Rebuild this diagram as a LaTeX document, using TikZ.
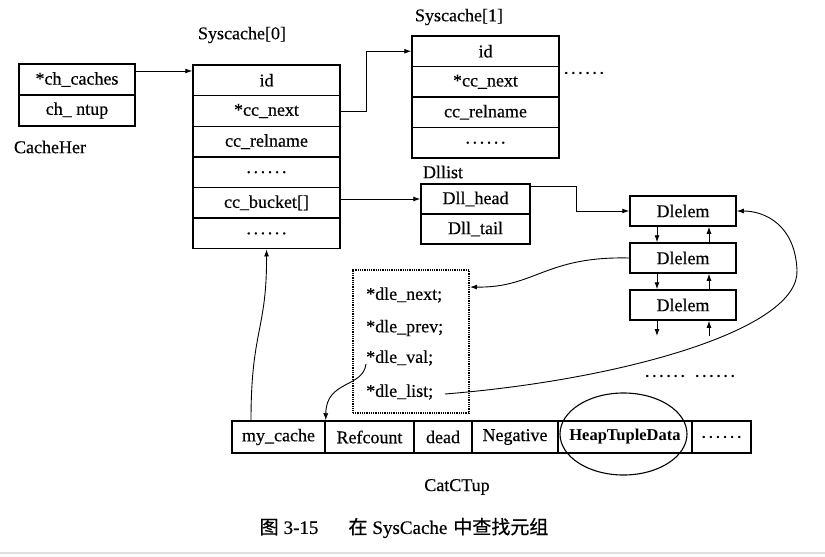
\documentclass[tikz,border=0pt]{standalone}
\usepackage{fontspec}
\setmainfont{Liberation Serif}
\newfontfamily\heavy{Liberation Serif}[FakeBold=0.35]
\newfontfamily\cjk{Noto Sans CJK SC}[FakeBold=0.6]
\usetikzlibrary{arrows.meta,shapes.geometric,calc}
\newcommand{\sixdots}{.\kern2.6pt.\kern2.6pt.\kern2.6pt.\kern2.6pt.\kern2.6pt.}
\begin{document}
\begin{tikzpicture}[x=1pt,y=-1pt,
  txt/.style={font=\fontsize{18}{20}\selectfont\heavy, inner sep=1pt},
  box/.style={txt, draw, line width=1.5pt, inner sep=0pt},
  chbox/.style={box, minimum width=116, minimum height=31},
  sbox/.style={box, minimum width=147, minimum height=30.6},
  dlbox/.style={box, minimum width=109, minimum height=30},
  elbox/.style={box, minimum width=106, minimum height=30},
  tbox/.style={box, minimum height=32},
  dotbox/.style={draw, line width=1.4pt, dash pattern=on 0.9pt off 0.9pt, inner sep=0pt},
  conn/.style={line width=0.9pt, -{Latex[length=7pt,width=5pt]}},
  plain/.style={line width=0.9pt}
]
\useasboundingbox (0,0) rectangle (825,557);
\fill[white] (0,0) rectangle (825,557);

% CacheHer
\node[chbox] (chc) at (77,79.5) {*ch\_caches};
\node[chbox] (chn) at (77,110.5) {ch\_ ntup};
\node[txt] (chlab) at (50,147) {CacheHer};

% Syscache[0]
\node[txt] (s0lab) at (242,35) {Syscache[0]};
\node[sbox] (s0id) at (266.5,80.3) {id};
\node[sbox] (s0next) at (266.5,111) {*cc\_next};
\node[sbox] (s0rel) at (266.5,141.6) {cc\_relname};
\node[sbox] (s0dots) at (266.5,172.2) {\sixdots};
\node[sbox] (s0bucket) at (266.5,202.8) {cc\_bucket[]};
\node[sbox] (s0last) at (266.5,233.4) {\sixdots};

% Syscache[1]
\node[txt] (s1lab) at (459,17) {Syscache[1]};
\node[sbox, minimum height=30.5] (s1id) at (485.5,51.25) {id};
\node[sbox, minimum height=30.5] (s1next) at (485.5,81.75) {*cc\_next};
\node[sbox, minimum height=30.5] (s1rel) at (485.5,112.25) {cc\_relname};
\node[sbox, minimum height=30.5] (s1dots) at (485.5,142.75) {\sixdots};
\node[txt] (s1more) at (584,73) {\sixdots};

% Dllist
\node[txt] (dllab) at (443,172) {Dllist};
\node[dlbox] (dhead) at (475.5,199) {Dll\_head};
\node[dlbox] (dtail) at (475.5,229) {Dll\_tail};

% Dlelem
\node[elbox] (e1) at (683,211) {Dlelem};
\node[elbox] (e2) at (683,258) {Dlelem};
\node[elbox] (e3) at (683,305) {Dlelem};
\coordinate (e3d) at (657,336);
\coordinate (e3u) at (709,336);
\node[txt] (edots) at (690,376) {\sixdots\kern10pt\sixdots};

% Dotted struct box
\node[dotbox, minimum width=116, minimum height=143] (dbox) at (411,341.5) {};
\node[txt, anchor=west] (dnext) at (365,295) {*dle\_next;};
\node[txt, anchor=west] (dprev) at (365,328) {*dle\_prev;};
\node[txt, anchor=west] (dval) at (365,358) {*dle\_val;};
\node[txt, anchor=west] (dlist) at (365,392) {*dle\_list;};
\coordinate (din) at (470,287);
\coordinate (vstart) at (366,364);
\coordinate (lstart) at (445,394);

% CatCTup row
\node[tbox, minimum width=93] (c1) at (278.5,437) {my\_cache};
\node[tbox, minimum width=89] (c2) at (369.5,437) {Refcount};
\node[tbox, minimum width=58] (c3) at (443,437) {dead};
\node[tbox, minimum width=86] (c4) at (515,437) {Negative};
\node[tbox, minimum width=134, font=\fontsize{16.5}{18}\selectfont\rmfamily\bfseries] (c5) at (625,437) {HeapTupleData};
\node[tbox, minimum width=59] (c6) at (721.5,437) {\sixdots};
\node[draw, ellipse, line width=1.1pt, minimum width=127, minimum height=82, inner sep=0pt] (ell) at (623.5,434) {};
\node[txt] (catlab) at (457,487) {CatCTup};

% Caption
\node[font=\fontsize{19}{21}\selectfont\heavy, inner sep=0pt] (cap) at (404,528)
  {{\cjk 图}\kern5pt 3-15\hspace{30pt}{\cjk 在}\kern5pt SysCache\kern6pt{\cjk 中查找元组}};
\draw[gray!25, line width=1.5pt] (0,553) -- (825,553);

% Connectors
\draw[conn] ([yshift=8.5pt]chc.east) -- ([yshift=8.5pt]chc.east -| s0id.west);
\draw[conn] (s0next.east) -- ++(26,0) |- (s1id.west);
\draw[conn] (s0bucket.east |- dhead.west) -- (dhead.west);
\draw[conn] ([yshift=-3pt]dhead.north east) -- ++(46,0) |- (e1.west);

\draw[conn] ([xshift=-26pt]e1.south) -- ([xshift=-26pt]e2.north);
\draw[conn] ([xshift=26pt]e2.north) -- ([xshift=26pt]e1.south);
\draw[conn] ([xshift=-26pt]e2.south) -- ([xshift=-26pt]e3.north);
\draw[conn] ([xshift=26pt]e3.north) -- ([xshift=26pt]e2.south);
\draw[conn] ([xshift=-26pt]e3.south) -- (e3d);
\draw[conn] (e3u) -- ([xshift=26pt]e3.south);

\draw[conn] (e2.west) .. controls (545,256) and (535,288) .. (din);
\draw[conn] (vstart) .. controls (363,388) and (326,380) .. (c1.north east);
\draw[conn] ([xshift=-27.5pt]c1.north) .. controls (251,330) and (267,330) .. (s0last.south);
\draw[conn] (lstart) .. controls (620,380) and (800,330) .. (797,270)
  .. controls (795,225) and (765,211) .. (e1.east);
\end{tikzpicture}
\end{document}
